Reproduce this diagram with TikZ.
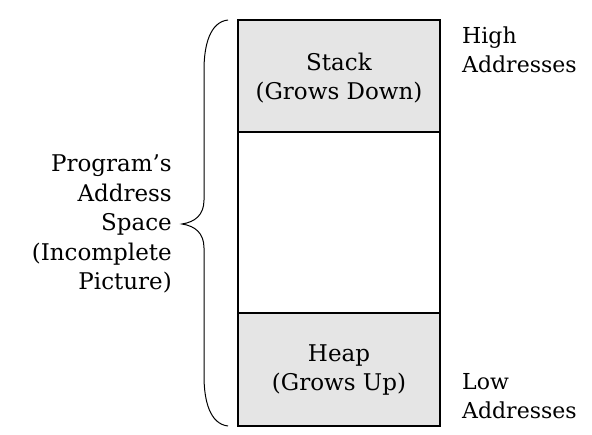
\documentclass[tikz,border=0pt]{standalone}
\usepackage{fontspec}
\setmainfont{DejaVu Serif}
\begin{document}
\begin{tikzpicture}[x=1pt,y=-1pt,
  seg/.style={draw=black,line width=1.6pt,fill=black!10},
  empty/.style={draw=black,line width=1.6pt,fill=white},
  lbl/.style={font=\fontsize{23}{29.5}\selectfont,inner sep=0pt,align=center}]
\useasboundingbox (0,0) rectangle (592,435);
\path[seg] (238,20) rectangle (440,132);
\path[empty] (238,132) rectangle (440,313);
\path[seg] (238,313) rectangle (440,426);
\node[lbl] (stack) at (339,78) {Stack\\(Grows Down)};
\node[lbl] (heap) at (339,370) {Heap\\(Grows Up)};
\node[lbl,anchor=west,align=left,font=\fontsize{22}{29.5}\selectfont] (high) at (462,50) {High\\Addresses};
\node[lbl,anchor=west,align=left,font=\fontsize{22}{29.5}\selectfont] (low) at (462,396) {Low\\Addresses};
\node[lbl,anchor=east,align=right] (prog) at (172,224) {Program’s\\Address\\Space\\(Incomplete\\Picture)};
\coordinate (bt) at (228,20);
\coordinate (bb) at (228,426);
\coordinate (tip) at (182,224);
\draw[line width=1pt] (bt) .. controls (210,22) and (204,45) .. (204,70)
  -- (204,200) .. controls (204,215) and (195,222) .. (tip)
  .. controls (195,226) and (204,233) .. (204,248)
  -- (204,376) .. controls (204,401) and (210,424) .. (bb);
\end{tikzpicture}
\end{document}
